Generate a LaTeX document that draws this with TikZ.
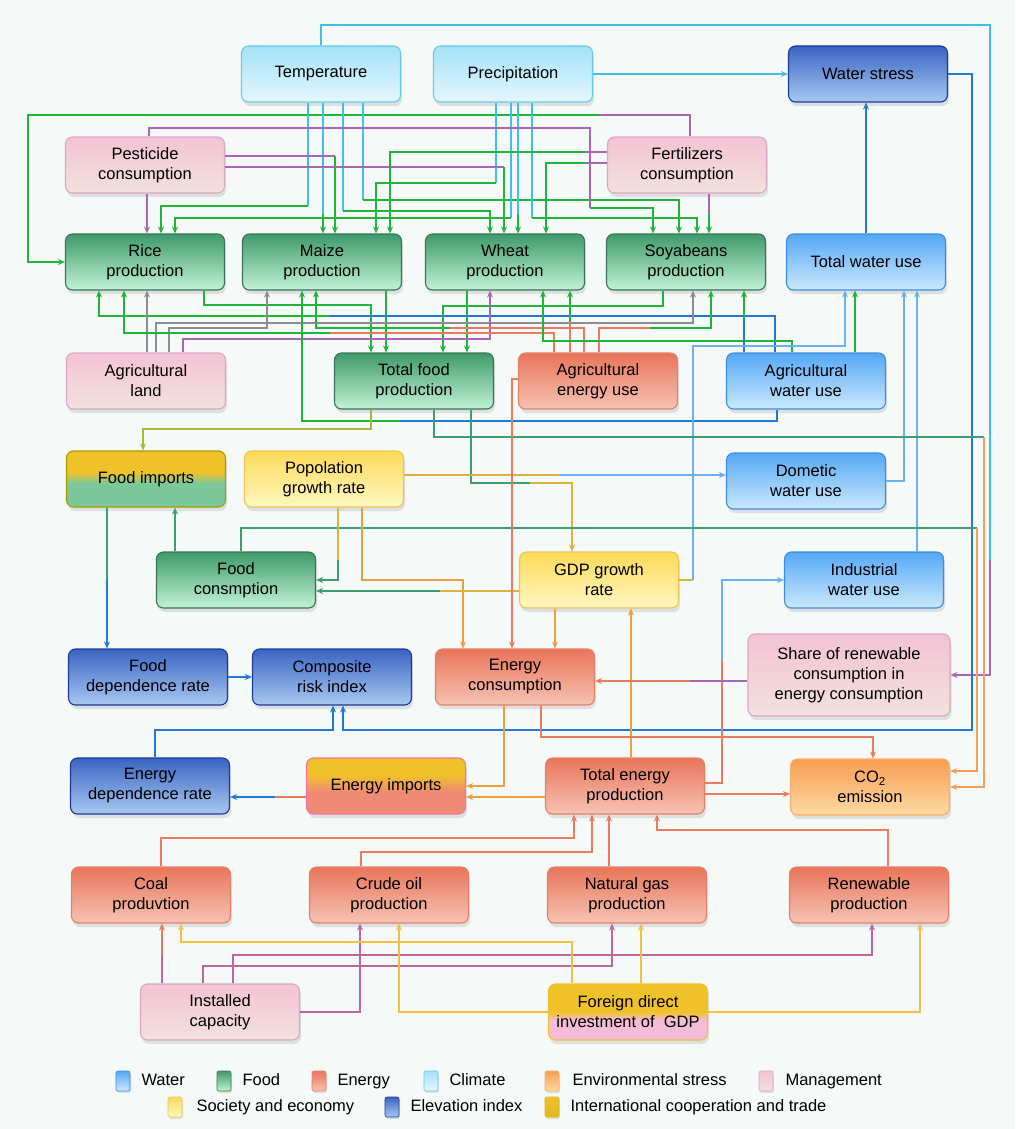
\documentclass[tikz,border=0pt]{standalone}
\usepackage{fontspec}
\setmainfont{Liberation Sans}
\usepackage{tikz}
\usetikzlibrary{arrows.meta}
\usetikzlibrary{shadows}
\usetikzlibrary{positioning}

\definecolor{bgcol}{HTML}{F5F9F8}
\definecolor{wtop}{HTML}{55A8F4}
\definecolor{wbot}{HTML}{CBE9FE}
\definecolor{wline}{HTML}{3B8DE0}
\definecolor{ftop}{HTML}{3F9A6A}
\definecolor{fbot}{HTML}{C2F3D6}
\definecolor{fline}{HTML}{3A7457}
\definecolor{etop}{HTML}{E8755B}
\definecolor{ebot}{HTML}{F7C3B3}
\definecolor{eline}{HTML}{E3826A}
\definecolor{ctop}{HTML}{A3E3FA}
\definecolor{cbot}{HTML}{E5F7FD}
\definecolor{cline}{HTML}{6ACAE9}
\definecolor{stop}{HTML}{F89E52}
\definecolor{sbot}{HTML}{FFDAA3}
\definecolor{sline}{HTML}{F5AE70}
\definecolor{mtop}{HTML}{F3C3D4}
\definecolor{mbot}{HTML}{F3E1DD}
\definecolor{mline}{HTML}{DBA8C4}
\definecolor{ytop}{HTML}{FDDA58}
\definecolor{ybot}{HTML}{FFF8C2}
\definecolor{yline}{HTML}{EAC655}
\definecolor{dtop}{HTML}{3A64C2}
\definecolor{dbot}{HTML}{A8C8F1}
\definecolor{dline}{HTML}{1C3A9A}
\definecolor{itop}{HTML}{F0C22A}
\definecolor{ibot}{HTML}{E2B620}
\definecolor{mixgreen}{HTML}{7CC89A}
\definecolor{mixsalmon}{HTML}{EF8B74}
\definecolor{mixpink}{HTML}{F4BCD8}

\definecolor{lcyan}{HTML}{3EC1E4}
\definecolor{lgreen}{HTML}{1EB53A}
\definecolor{lpurple}{HTML}{A867B5}
\definecolor{lgray}{HTML}{8E8A98}
\definecolor{lblue}{HTML}{2079D4}
\definecolor{lsky}{HTML}{6DB0F0}
\definecolor{lorange}{HTML}{E97B5E}
\definecolor{lamber}{HTML}{E8A040}
\definecolor{lyellow}{HTML}{DDB23E}
\definecolor{lteal}{HTML}{3E9E70}
\definecolor{lolive}{HTML}{A9B83C}
\definecolor{lenv}{HTML}{F39E5A}
\definecolor{linst}{HTML}{C0669E}
\definecolor{lfdi}{HTML}{EFC043}

\pgfdeclareverticalshading{fimpshade}{100bp}{color(0bp)=(mixgreen); color(25bp)=(mixgreen); color(46bp)=(mixgreen); color(56bp)=(itop); color(75bp)=(itop); color(100bp)=(itop)}
\pgfdeclareverticalshading{eimpshade}{100bp}{color(0bp)=(mixsalmon); color(25bp)=(mixsalmon); color(45bp)=(mixsalmon); color(60bp)=(itop); color(75bp)=(itop); color(100bp)=(itop)}
\pgfdeclareverticalshading{fdishade}{100bp}{color(0bp)=(mixpink); color(25bp)=(mixpink); color(43bp)=(mixpink); color(50bp)=(itop); color(75bp)=(itop); color(100bp)=(itop)}

\newcommand\boxfont{\fontsize{16.5}{20}\selectfont}

\tikzset{
  box/.style = {rounded corners = 7pt, minimum width = 159pt, minimum height = 56pt, inner sep = 2pt,
    align = center, line width = 1.1pt, font = \boxfont,
    drop shadow = {shadow xshift = 1.5pt, shadow yshift = -4pt, opacity = 0.2}},
  key/.style = {rounded corners = 2pt, minimum width = 14pt, minimum height = 20pt, inner sep = 0,
    line width = 0.6pt, drop shadow = {shadow xshift = 1pt, shadow yshift = -2pt, opacity = 0.2}},
  keytext/.style = {inner sep = 0, font = \boxfont, text height = 12pt, text depth = 3.5pt},
  cwater/.style = {draw = wline, top color = wtop, bottom color = wbot},
  cfood/.style = {draw = fline, top color = ftop, bottom color = fbot},
  cenergy/.style = {draw = eline, top color = etop, bottom color = ebot},
  cclimate/.style = {draw = cline, top color = ctop, bottom color = cbot},
  cstress/.style = {draw = sline, top color = stop, bottom color = sbot},
  cmanage/.style = {draw = mline, top color = mtop, bottom color = mbot},
  csociety/.style = {draw = yline, top color = ytop, bottom color = ybot},
  celev/.style = {draw = dline, top color = dtop, bottom color = dbot},
  ctrade/.style = {draw = ibot, top color = itop, bottom color = ibot},
  wire/.style = {line width = 1.5pt},
  tip/.style = {wire, -{Stealth[length = 7pt, width = 6pt]}},
  hv/.style = {to path = {-| (\tikztotarget)}},
  vh/.style = {to path = {|- (\tikztotarget)}},
}

\begin{document}
\begin{tikzpicture}[x = 1pt, y = -1pt]

    \fill [bgcol] (0, 0) rectangle (1015, 1129);
    \useasboundingbox (0, 0) rectangle (1015, 1129);

    \node [box, cclimate] (temp) at (321, 74) {Temperature};
    \node [box, cclimate] (prec) at (513, 74) {Precipitation};
    \node [box, celev] (wstress) at (868, 74) {Water stress};
    \node [box, cmanage] (pest) at (145, 165) {Pesticide\\consumption};
    \node [box, cmanage] (fert) at (687, 165) {Fertilizers\\consumption};
    \node [box, cfood] (rice) at (145, 262) {Rice\\production};
    \node [box, cfood] (maize) at (322, 262) {Maize\\production};
    \node [box, cfood] (wheat) at (505, 262) {Wheat\\production};
    \node [box, cfood] (soy) at (686, 262) {Soyabeans\\production};
    \node [box, cwater] (twater) at (866, 262) {Total water use};
    \node [box, cmanage] (aland) at (146, 381) {Agricultural\\land};
    \node [box, cfood] (tfood) at (414, 381) {Total food\\production};
    \node [box, cenergy] (aenergy) at (598, 381) {Agricultural\\energy use};
    \node [box, cwater] (awater) at (806, 381) {Agricultural\\water use};
    \node [box, draw = olive!80!yellow, shading = fimpshade] (fimp) at (146, 479) {Food imports};
    \node [box, csociety] (pop) at (324, 479) {Popolation\\growth rate};
    \node [box, cwater] (dwater) at (806, 481) {Dometic\\water use};
    \node [box, cfood] (fcons) at (236, 580) {Food\\consmption};
    \node [box, csociety] (gdp) at (599, 580) {GDP growth\\rate};
    \node [box, cwater] (iwater) at (864, 580) {Industrial\\water use};
    \node [box, celev] (fdep) at (148, 677) {Food\\dependence rate};
    \node [box, celev] (cri) at (332, 677) {Composite\\risk index};
    \node [box, cenergy] (econs) at (515, 677) {Energy\\consumption};
    \node [box, cmanage, minimum width = 202pt, minimum height = 82pt] (share) at (849, 675) {Share of renewable\\consumption in\\energy consumption};
    \node [box, celev] (edep) at (150, 786) {Energy\\dependence rate};
    \node [box, draw = magenta!40!pink, shading = eimpshade] (eimp) at (386, 786) {Energy imports};
    \node [box, cenergy] (tep) at (625, 786) {Total energy\\production};
    \node [box, cstress] (co2) at (870, 787) {CO\textsubscript{2}\\emission};
    \node [box, cenergy] (coal) at (151, 895) {Coal\\produvtion};
    \node [box, cenergy] (crude) at (389, 895) {Crude oil\\production};
    \node [box, cenergy] (gas) at (627, 895) {Natural gas\\production};
    \node [box, cenergy] (renew) at (869, 895) {Renewable\\production};
    \node [box, cmanage] (inst) at (220, 1012) {Installed\\capacity};
    \node [box, draw = itop, shading = fdishade] (fdi) at (628, 1012) {Foreign direct\\investment of\ \ GDP};

    \draw [wire, lcyan] (temp.north) |- (990, 25) -- (990, 560) edge [tip, lpurple, vh] (share.east);
    \draw [tip, lcyan] (prec.east) -- (wstress.west);
    \draw [tip, lblue] (wstress.east) -| (972, 730) -| (cri.south -| 343,0);
    \draw [wire, lpurple] (fert.north -| 690,0) |- (600, 115) edge [tip, lgreen, to path = {-| (28, 262) -- (\tikztotarget)}] (rice.west);

    \draw [wire, lcyan] (temp.south -| 308,0) -- (308, 206) edge [tip, lgreen, hv] (rice.north -| 161,0);
    \draw [wire, lcyan] (temp.south -| 323,0) -- (323, 214) edge [tip, lgreen] (maize.north -| 323,0);
    \draw [wire, lcyan] (temp.south -| 343,0) -- (343, 211) edge [tip, lgreen, hv] (wheat.north -| 490,0);
    \draw [wire, lcyan] (temp.south -| 363,0) -- (363, 200) edge [tip, lgreen, hv] (soy.north -| 679,0);
    \draw [wire, lcyan] (prec.south -| 496,0) -- (496, 183) edge [tip, lgreen, hv] (maize.north -| 376,0);
    \draw [wire, lcyan] (prec.south -| 511,0) -- (511, 218) edge [tip, lgreen, hv] (rice.north -| 175,0);
    \draw [wire, lcyan] (prec.south -| 518,0) -- (518, 214) edge [tip, lgreen] (wheat.north -| 518,0);
    \draw [wire, lcyan] (prec.south -| 532,0) -- (532, 218) edge [tip, lgreen, hv] (soy.north -| 697,0);

    \draw [tip, lpurple] (pest.south -| 147,0) -- (rice.north -| 147,0);
    \draw [wire, lpurple] (pest.east |- 0,156) -- (335, 156) edge [tip, lgreen] (maize.north -| 335,0);
    \draw [wire, lpurple] (pest.east |- 0,167) -- (504, 167) edge [tip, lgreen] (wheat.north -| 504,0);
    \draw [wire, lpurple] (pest.north -| 149,0) |- (590, 128) -- (590, 208) edge [tip, lgreen, hv] (soy.north -| 653,0);
    \draw [wire, lpurple] (fert.west |- 0,152) -- (585, 152) edge [tip, lgreen, hv] (maize.north -| 390,0);
    \draw [wire, lpurple] (fert.west |- 0,163) -- (585, 163) edge [tip, lgreen, hv] (wheat.north -| 546,0);
    \draw [wire, lpurple] (fert.south -| 709,0) -- (709, 214) edge [tip, lgreen] (soy.north -| 709,0);

    \draw [tip, lblue] (twater.north) -- (twater.north |- wstress.south);

    \draw [tip, lgreen] (rice.south -| 204,0) |- (371, 305) -- (tfood.north -| 371,0);
    \draw [tip, lgreen] (maize.south -| 386,0) -- (tfood.north -| 386,0);
    \draw [tip, lgreen] (wheat.south -| 467,0) -- (tfood.north -| 467,0);
    \draw [tip, lgreen] (soy.south -| 663,0) |- (443, 306) -- (tfood.north -| 443,0);

    \draw [wire, lblue] (awater.north -| 775,0) |- (330, 316) edge [tip, lgreen, hv] (rice.south -| 99,0);
    \draw [tip, lgray] (aland.north -| 156,0) |- (693, 323) -- (soy.south -| 693,0);
    \draw [tip, lgray] (aland.north -| 169,0) |- (267, 328) -- (maize.south -| 267,0);
    \draw [tip, lgray] (aland.north -| 147,0) -- (rice.south -| 147,0);
    \draw [tip, lpurple] (aland.north -| 183,0) |- (490, 339) -- (wheat.south -| 490,0);
    \draw [wire, lorange] (aenergy.north -| 554,0) |- (330, 333) edge [tip, lgreen, hv] (rice.south -| 124,0);
    \draw [wire, lorange] (aenergy.north -| 570,0) -- (570, 322) edge [tip, lgreen] (wheat.south -| 570,0);
    \draw [wire, lorange] (aenergy.north -| 584,0) |- (450, 328) edge [tip, lgreen, hv] (maize.south -| 316,0);
    \draw [wire, lorange] (aenergy.north -| 599,0) |- (650, 328) edge [tip, lgreen, hv] (soy.south -| 711,0);
    \draw [tip, lgreen] (awater.north -| 792,0) |- (543, 341) -- (wheat.south -| 543,0);
    \draw [wire, lblue] (awater.north -| 744,0) -- (744, 318) edge [tip, lgreen] (soy.south -| 744,0);
    \draw [tip, lgreen] (awater.north -| 855,0) -- (twater.south -| 855,0);
    \draw [wire, lblue] (awater.south -| 777,0) |- (400, 421) edge [tip, lgreen, hv] (maize.south -| 302,0);
    \draw [wire, lyellow] (gdp.east) -- (693, 580) edge [tip, lsky, to path = {|- (845, 346) -- (\tikztotarget)}] (twater.south -| 845,0);
    \draw [tip, lsky] (dwater.east) -| (twater.south -| 904,0);
    \draw [tip, lsky] (iwater.north -| 917,0) -- (twater.south -| 917,0);

    \draw [tip, lolive] (tfood.south -| 371,0) |- (143, 429) -- (fimp.north -| 143,0);
    \draw [wire, lteal] (tfood.south -| 434,0) |- (984, 437) edge [tip, lenv, vh] (co2.east |- 0,787);
    \draw [wire, lteal] (tfood.south -| 471,0) |- (530, 483) edge [tip, lyellow, hv] (gdp.north -| 572,0);
    \draw [wire, lteal] (fcons.north -| 241,0) |- (977, 528) edge [tip, lenv, vh] (co2.east |- 0,771);
    \draw [tip, lteal] (fcons.north -| 175,0) -- (fimp.south -| 175,0);
    \draw [wire, lteal] (fimp.south -| 107,0) -- (107, 580) edge [tip, lblue] (fdep.north -| 107,0);

    \draw [wire, lyellow] (pop.east |- 0,475) -- (560, 475) edge [tip, lsky] (dwater.west |- 0,475);
    \draw [wire, lyellow] (pop.south -| 338,0) -- (338, 560) edge [tip, lteal, vh] (fcons.east |- 0,580);
    \draw [tip, lamber] (pop.south -| 362,0) |- (463, 580) -- (econs.north -| 463,0);
    \draw [wire, lyellow] (gdp.west |- 0,591) -- (440, 591) edge [tip, lteal] (fcons.east |- 0,591);
    \draw [tip, lamber] (gdp.south -| 555,0) -- (econs.north -| 555,0);
    \draw [tip, lorange] (aenergy.west |- 0,379) -| (econs.north -| 512,0);
    \draw [tip, lamber] (tep.north -| 631,0) -- (gdp.south -| 631,0);
    \draw [wire, lorange] (tep.east |- 0,783) -| (722, 660) edge [tip, lsky, vh] (iwater.west);
    \draw [tip, lorange] (tep.east |- 0,794) -- (co2.west |- 0,794);
    \draw [tip, lamber] (tep.west |- 0,797) -- (eimp.east |- 0,797);
    \draw [tip, lamber] (econs.south -| 504,0) |- (eimp.east |- 0,786);
    \draw [tip, lorange] (econs.south -| 541,0) |- (873, 737) -- (co2.north -| 873,0);
    \draw [wire, lpurple] (share.west |- 0,681) -- (690, 681) edge [tip, lorange] (econs.east |- 0,681);
    \draw [wire, lorange] (eimp.west |- 0,797) -- (275, 797) edge [tip, lblue] (edep.east |- 0,797);
    \draw [tip, lblue] (edep.north -| 155,0) |- (333, 730) -- (cri.south -| 333,0);
    \draw [tip, lblue] (fdep.east) -- (cri.west);

    \draw [tip, lorange] (coal.north -| 161,0) |- (574, 838) -- (tep.south -| 574,0);
    \draw [tip, lorange] (crude.north -| 361,0) |- (592, 852) -- (tep.south -| 592,0);
    \draw [tip, lorange] (gas.north -| 609,0) -- (tep.south -| 609,0);
    \draw [tip, lorange] (renew.north -| 888,0) |- (657, 830) -- (tep.south -| 657,0);

    \draw [wire, linst] (inst.north -| 162,0) -- (162, 955) edge [tip, lorange] (coal.south -| 162,0);
    \draw [tip, linst] (inst.north -| 203,0) |- (612, 966) -- (gas.south -| 612,0);
    \draw [tip, linst] (inst.north -| 233,0) |- (872, 955) -- (renew.south -| 872,0);
    \draw [tip, linst] (inst.east |- 0,1012) -| (crude.south -| 360,0);
    \draw [tip, lfdi] (fdi.north -| 572,0) |- (181, 942) -- (coal.south -| 181,0);
    \draw [tip, lfdi] (fdi.north -| 641,0) -- (gas.south -| 641,0);
    \draw [tip, lfdi] (fdi.west |- 0,1012) -| (crude.south -| 399,0);
    \draw [tip, lfdi] (fdi.east |- 0,1012) -| (renew.south -| 920,0);

    \node [key, cwater] (k1) at (123, 1081) {};
    \node [keytext, right = 11pt of k1] (k1t) {Water};
    \node [key, cfood] (k2) at (224, 1081) {};
    \node [keytext, right = 11pt of k2] (k2t) {Food};
    \node [key, cenergy] (k3) at (319, 1081) {};
    \node [keytext, right = 11pt of k3] (k3t) {Energy};
    \node [key, cclimate] (k4) at (431, 1081) {};
    \node [keytext, right = 11pt of k4] (k4t) {Climate};
    \node [key, cstress] (k5) at (552, 1081) {};
    \node [keytext, right = 13pt of k5] (k5t) {Environmental stress};
    \node [key, cmanage] (k6) at (766, 1081) {};
    \node [keytext, right = 12pt of k6] (k6t) {Management};
    \node [key, csociety] (k7) at (175, 1107) {};
    \node [keytext, right = 14pt of k7] (k7t) {Society and economy};
    \node [key, celev] (k8) at (392, 1107) {};
    \node [keytext, right = 11pt of k8] (k8t) {Elevation index};
    \node [key, ctrade] (k9) at (552, 1107) {};
    \node [keytext, right = 11pt of k9] (k9t) {International cooperation and trade};
  \end{tikzpicture}
\end{document}
